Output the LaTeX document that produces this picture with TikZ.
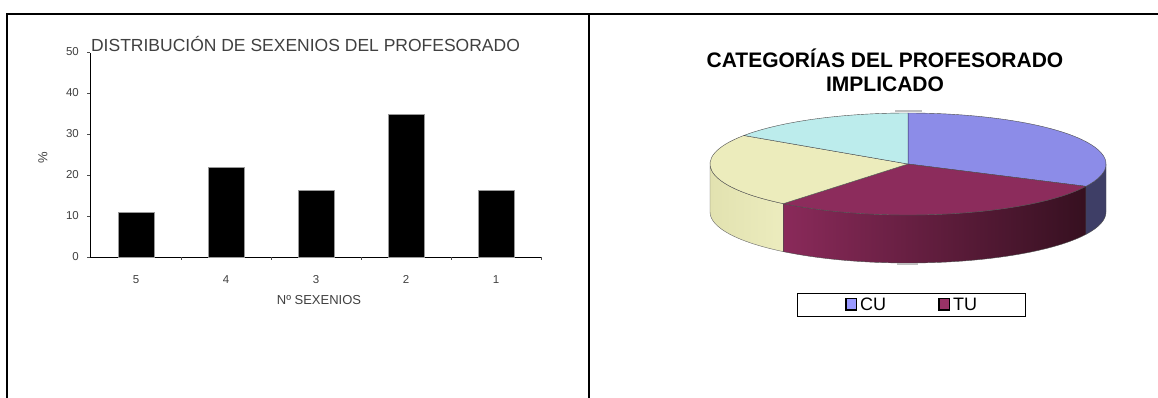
\documentclass[tikz,border=0pt]{standalone}
\usepackage{fontspec}
\setmainfont{Liberation Sans}
\definecolor{cuTop}{HTML}{8C8CE8}
\definecolor{cuSide}{HTML}{3E3E66}
\definecolor{tuTop}{HTML}{8C2C5C}
\definecolor{tuSideL}{HTML}{8A2A5A}
\definecolor{tuSideR}{HTML}{361020}
\definecolor{yeTop}{HTML}{ECECBC}
\definecolor{yeSideL}{HTML}{E2E2B0}
\definecolor{yeSideR}{HTML}{ECECBE}
\definecolor{cyTop}{HTML}{BCECEC}
\definecolor{legCU}{HTML}{9999FF}
\definecolor{legTU}{HTML}{993366}
\definecolor{txtgray}{HTML}{404040}
\begin{document}
\begin{tikzpicture}[x=1pt,y=-1pt,
  frame/.style={line width=2pt,black},
  bar/.style={fill=black,draw=black!40,line width=0.8pt},
  ylab/.style={anchor=east,inner sep=0pt,font=\fontsize{11.5}{13}\selectfont,text=txtgray},
  xlab/.style={inner sep=0pt,font=\fontsize{11.5}{13}\selectfont,text=txtgray},
  slice/.style={draw=black!70,line width=0.4pt},
  legbox/.style={draw=black,line width=1pt},
  legsq/.style={draw=black,line width=1.2pt}]
\useasboundingbox (0,0) rectangle (1158,398);
\fill[white] (0,0) rectangle (1158,398);
% frame
\coordinate (tl) at (7,14);
\coordinate (tr) at (1158,14);
\coordinate (bl) at (7,398);
\coordinate (tm) at (588.5,14);
\coordinate (bm) at (588.5,398);
\draw[frame] (tr) -- (tl) -- (bl);
\draw[frame] (tm) -- (bm);
% ---------- bar chart ----------
\node[inner sep=0pt,font=\fontsize{17.5}{20}\selectfont,text=txtgray] (btitle) at (305.5,43.5) {DISTRIBUCIÓN DE SEXENIOS DEL PROFESORADO};
\coordinate (ytop) at (90,53);
\coordinate (orig) at (90,257);
\coordinate (xend) at (541,257);
\draw[line width=1pt] (ytop) -- (orig) -- (xend);
\foreach \v/\nm in {0/a,10/b,20/c,30/d,40/e,50/f}{
  \draw[line width=0.6pt,black!70] (87,{257-4.1*\v}) -- (90,{257-4.1*\v});
  \node[ylab] (yl\nm) at (79,{257-4.1*\v}) {\v};
}
\foreach \x in {181,271,361,451,541}{
  \draw[line width=0.6pt,black!70] (\x,257) -- (\x,260);
}
\foreach \i/\val/\lab in {0/10.87/5,1/21.74/4,2/16.30/3,3/34.78/2,4/16.30/1}{
  \draw[bar] ({118+90*\i},257) rectangle ({154+90*\i},{257-4.1*\val});
  \node[xlab] (xl\i) at ({136+90*\i},279.5) {\lab};
}
\node[inner sep=0pt,rotate=90,font=\fontsize{13}{14}\selectfont,text=txtgray] (ypct) at (43,158) {\%};
\node[inner sep=0pt,font=\fontsize{13}{14}\selectfont,text=txtgray] (xtitle) at (319,300.5) {Nº SEXENIOS};
% ---------- pie chart ----------
\node[inner sep=0pt,align=center,font=\bfseries\fontsize{21}{23.5}\selectfont] (ptitle) at (885,70.5) {CATEGORÍAS DEL PROFESORADO\\IMPLICADO};
\begin{scope}[shift={(908,164)},yscale=-1]
  % sides
  \shade[left color=yeSideL,right color=yeSideR,draw=black!60,line width=0.4pt]
    (180:198 and 51) arc[start angle=180,end angle=231,x radius=198,y radius=51]
    -- ++(0,-48) arc[start angle=231,end angle=180,x radius=198,y radius=51] -- cycle;
  \shade[left color=tuSideL,right color=tuSideR,draw=black!70,line width=0.4pt]
    (231:198 and 51) arc[start angle=231,end angle=334,x radius=198,y radius=51]
    -- ++(0,-48) arc[start angle=334,end angle=231,x radius=198,y radius=51] -- cycle;
  \fill[cuSide,draw=black!70,line width=0.4pt]
    (334:198 and 51) arc[start angle=334,end angle=360,x radius=198,y radius=51]
    -- ++(0,-48) arc[start angle=360,end angle=334,x radius=198,y radius=51] -- cycle;
  % top
  \fill[cuTop,slice] (0,0) -- (-26:198 and 51) arc[start angle=-26,end angle=90,x radius=198,y radius=51] -- cycle;
  \fill[tuTop,slice] (0,0) -- (-129:198 and 51) arc[start angle=-129,end angle=-26,x radius=198,y radius=51] -- cycle;
  \fill[yeTop,slice] (0,0) -- (146:198 and 51) arc[start angle=146,end angle=231,x radius=198,y radius=51] -- cycle;
  \fill[cyTop,slice] (0,0) -- (90:198 and 51) arc[start angle=90,end angle=146,x radius=198,y radius=51] -- cycle;
  \draw[line width=1pt,black!50!blue!60] (0,0) -- (0,51);
  \draw[line width=2pt,black!25] (-13,52.5) -- (14,52.5);
  \draw[line width=2pt,black!25] (-11,-99.5) -- (10,-99.5);
\end{scope}
% legend
\draw[legbox] (797,293) rectangle (1025,316);
\draw[legsq,fill=legCU] (846,298.5) rectangle (856.5,310);
\node[anchor=west,inner sep=0pt,font=\fontsize{18}{20}\selectfont] (lcu) at (860,304.5) {CU};
\draw[legsq,fill=legTU] (939,298.5) rectangle (949.5,310);
\node[anchor=west,inner sep=0pt,font=\fontsize{18}{20}\selectfont] (ltu) at (953,304.5) {TU};
\end{tikzpicture}
\end{document}
